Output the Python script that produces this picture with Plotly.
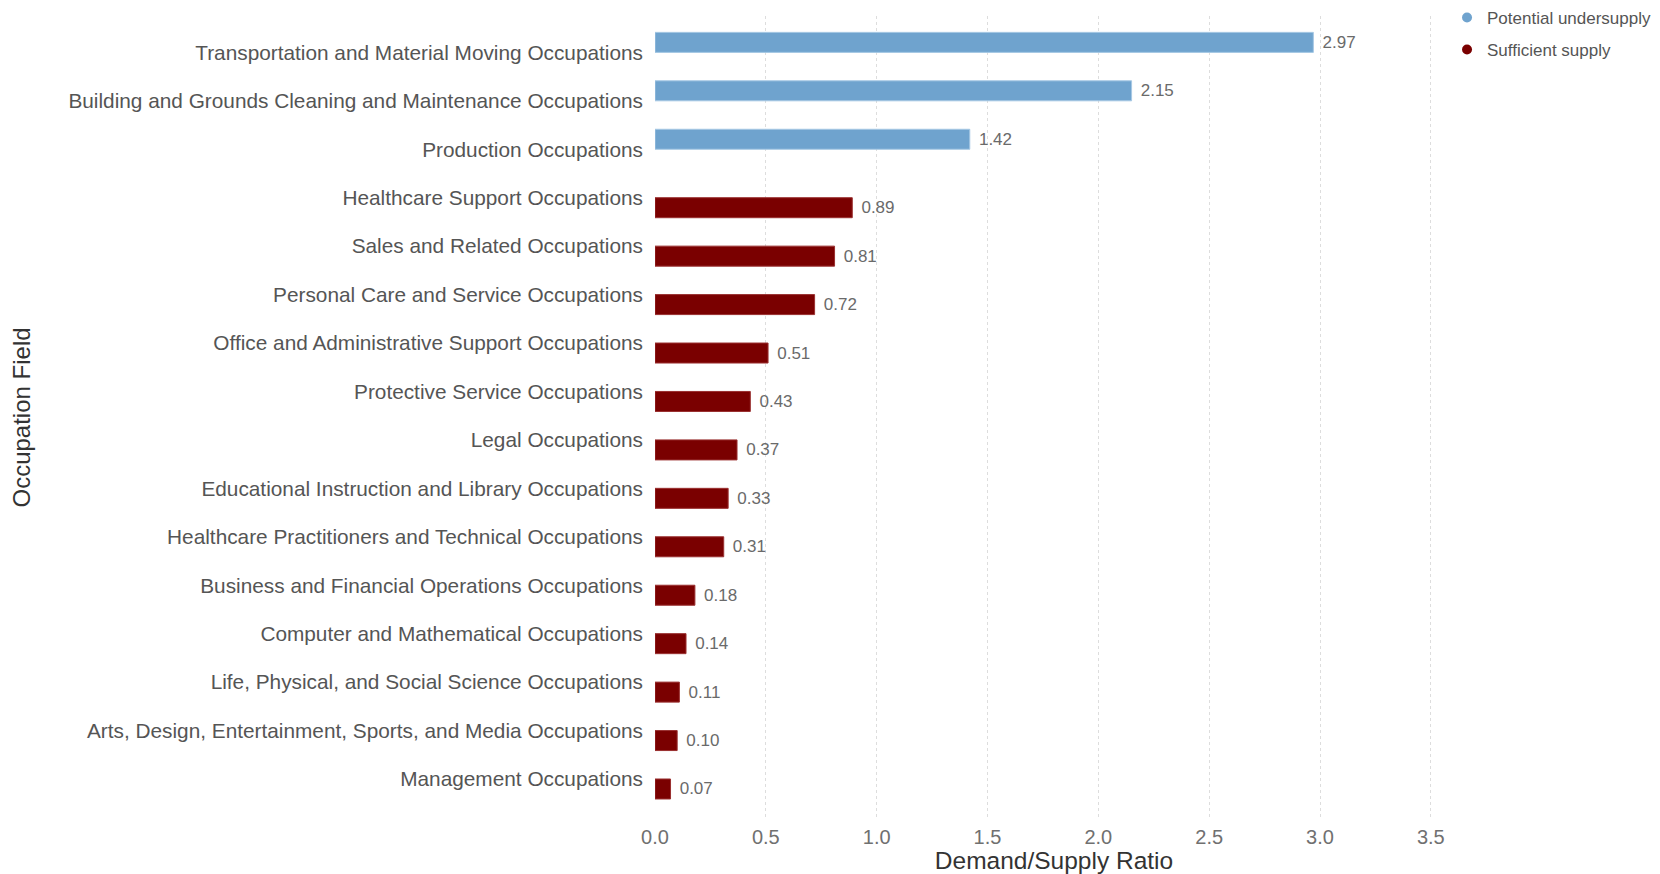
import plotly.graph_objects as go

categories = [
    "Transportation and Material Moving Occupations",
    "Building and Grounds Cleaning and Maintenance Occupations",
    "Production Occupations",
    "Healthcare Support Occupations",
    "Sales and Related Occupations",
    "Personal Care and Service Occupations",
    "Office and Administrative Support Occupations",
    "Protective Service Occupations",
    "Legal Occupations",
    "Educational Instruction and Library Occupations",
    "Healthcare Practitioners and Technical Occupations",
    "Business and Financial Operations Occupations",
    "Computer and Mathematical Occupations",
    "Life, Physical, and Social Science Occupations",
    "Arts, Design, Entertainment, Sports, and Media Occupations",
    "Management Occupations",
]
undersupply = [2.97, 2.15, 1.42, None, None, None, None, None, None, None, None, None, None, None, None, None]
sufficient = [None, None, None, 0.89, 0.81, 0.72, 0.51, 0.43, 0.37, 0.33, 0.31, 0.18, 0.14, 0.11, 0.10, 0.07]
series_names = ["Potential undersupply", "Sufficient supply"]
x_ticks = [0.0, 0.5, 1.0, 1.5, 2.0, 2.5, 3.0, 3.5]

BLUE = "#6fa3ce"
RED = "#7a0000"
FONT = "Arial, Liberation Sans, sans-serif"

fig = go.Figure()
for name, vals, col, edge, leg in [
    (series_names[0], undersupply, BLUE, "#a6c8e4", "legend"),
    (series_names[1], sufficient, RED, "#9a3030", "legend2"),
]:
    fig.add_trace(go.Bar(
        x=vals, y=categories, orientation="h", name=name,
        marker=dict(color=col, line=dict(color=edge, width=1)),
        text=[None if v is None else f"\u00a0\u200a{v:.2f}" for v in vals],
        textposition="outside", cliponaxis=False,
        textfont=dict(family=FONT, size=17, color="#6a6a6a"),
        showlegend=False, hoverinfo="x+y",
    ))
    fig.add_trace(go.Scatter(
        x=[None], y=[None], mode="markers", name=name, legend=leg,
        marker=dict(color=col, size=10, symbol="circle"),
        showlegend=True,
    ))

legend_common = dict(
    xref="paper", yref="paper", x=0.9925, xanchor="left", yanchor="middle",
    font=dict(family=FONT, size=17, color="#555555"),
    itemwidth=30, bgcolor="rgba(0,0,0,0)", borderwidth=0,
)

fig.update_layout(
    width=1652, height=866,
    margin=dict(l=647, r=207, t=8, b=55, autoexpand=False),
    paper_bgcolor="white", plot_bgcolor="white",
    barmode="group", bargap=0.174, bargroupgap=0,
    font=dict(family=FONT, color="#555555"),
    legend=dict(**legend_common, y=0.9975),
    legend2=dict(**legend_common, y=0.9577),
    xaxis=dict(
        range=[0, 3.6], tickvals=x_ticks, tickformat=".1f",
        showgrid=True, gridcolor="#dddddd", griddash="dot", gridwidth=1,
        zeroline=False, showline=False, ticks="", automargin=False,
        tickfont=dict(family=FONT, size=20, color="#707070"),
        ticklabelstandoff=4,
        title=dict(text="Demand/Supply Ratio", standoff=4,
                   font=dict(family=FONT, size=24.5, color="#333333")),
    ),
    yaxis=dict(
        type="category", categoryorder="array", categoryarray=categories,
        range=[15.826, -0.751], automargin=False,
        showgrid=False, zeroline=False, showline=False, ticks="",
        tickfont=dict(family=FONT, size=20.8, color="#555555"),
        ticklabelstandoff=11,
        title=dict(text="Occupation Field", standoff=30,
                   font=dict(family=FONT, size=24, color="#333333")),
    ),
)

fig.write_html("out.html")
